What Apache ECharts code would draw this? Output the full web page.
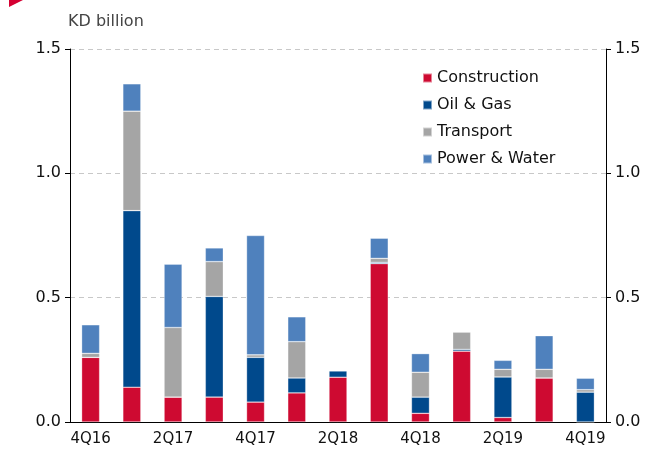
<!DOCTYPE html>
<html>
<head>
<meta charset="utf-8">
<script src="https://cdn.jsdelivr.net/npm/echarts@6/dist/echarts.min.js"></script>
<style>
    html, body { margin: 0; padding: 0; background: #fff; }
    #chart { width: 657px; height: 455px; }
</style>
</head>
<body>
<div id="chart"></div>
<script>
    // quarters on the x axis
    var quarters = ['4Q16', '1Q17', '2Q17', '3Q17', '4Q17', '1Q18', '2Q18', '3Q18', '4Q18', '1Q19', '2Q19', '3Q19', '4Q19'];

    // KD billion
    var construction = [0.26, 0.14, 0.10, 0.10, 0.08, 0.117, 0.18, 0.637, 0.035, 0.285, 0.018, 0.177, 0];
    var oilGas       = [0, 0.71, 0, 0.405, 0.18, 0.06, 0.026, 0.005, 0.065, 0.007, 0.163, 0, 0.12];
    var transport    = [0.016, 0.40, 0.28, 0.14, 0.01, 0.146, 0, 0.016, 0.10, 0.07, 0.031, 0.035, 0.01];
    var powerWater   = [0.115, 0.11, 0.255, 0.055, 0.48, 0.10, 0, 0.081, 0.075, 0, 0.036, 0.135, 0.046];

    var yTicks = [0, 0.5, 1.0, 1.5];

    var font = 'DejaVu Sans';
    var chart = echarts.init(document.getElementById('chart'));

    function bar(name, data, color) {
        return {
            name: name,
            type: 'bar',
            stack: 'total',
            data: data,
            barWidth: 18,
            itemStyle: { color: color, borderColor: 'rgba(255,255,255,0.5)', borderWidth: 0.6 }
        };
    }

    function yAxis(pos, grid) {
        return {
            type: 'value',
            position: pos,
            min: yTicks[0],
            max: yTicks[yTicks.length - 1],
            interval: 0.5,
            axisLine: { show: true, lineStyle: { color: '#000', width: 1 } },
            axisTick: { show: true, length: 5, lineStyle: { color: '#000' } },
            axisLabel: {
                color: '#111', fontFamily: font, fontSize: 16, margin: 9,
                formatter: function (v) { return v.toFixed(1); }
            },
            splitLine: { show: grid, lineStyle: { color: '#c8c8c8', type: [5, 4] } }
        };
    }

    var option = {
        animation: false,
        textStyle: { fontFamily: font },
        grid: { left: 70, right: 51, top: 49, bottom: 33, containLabel: false },
        title: {
            text: 'KD billion',
            left: 63, top: 9,
            textStyle: { fontFamily: font, fontSize: 16, fontWeight: 'normal', color: '#444' }
        },
        legend: {
            orient: 'vertical',
            left: 417, top: 64,
            itemWidth: 9, itemHeight: 9,
            itemGap: 9,
            icon: 'rect',
            textStyle: { fontFamily: font, fontSize: 16, color: '#111', lineHeight: 18 }
        },
        graphic: [{
            type: 'polygon',
            shape: { points: [[9, 0], [23, 0], [9, 7]] },
            style: { fill: '#d50032' }
        }],
        xAxis: [{
            type: 'category',
            data: quarters,
            axisLine: { lineStyle: { color: '#000' } },
            axisTick: { length: 5, interval: 0, lineStyle: { color: '#000' } },
            axisLabel: { interval: 1, color: '#111', fontFamily: font, fontSize: 15, margin: 10 }
        }, {
            type: 'category',
            data: quarters,
            position: 'bottom',
            axisLine: { show: false },
            axisTick: { length: 5, interval: 0, alignWithLabel: true, lineStyle: { color: '#000' } },
            axisLabel: { show: false }
        }],
        yAxis: [yAxis('left', true), yAxis('right', false)],
        series: [
            bar('Construction', construction, '#ce0a31'),
            bar('Oil & Gas', oilGas, '#00498c'),
            bar('Transport', transport, '#a5a5a5'),
            bar('Power & Water', powerWater, '#4f81bd')
        ]
    };
    chart.setOption(option);
</script>
</body>
</html>
